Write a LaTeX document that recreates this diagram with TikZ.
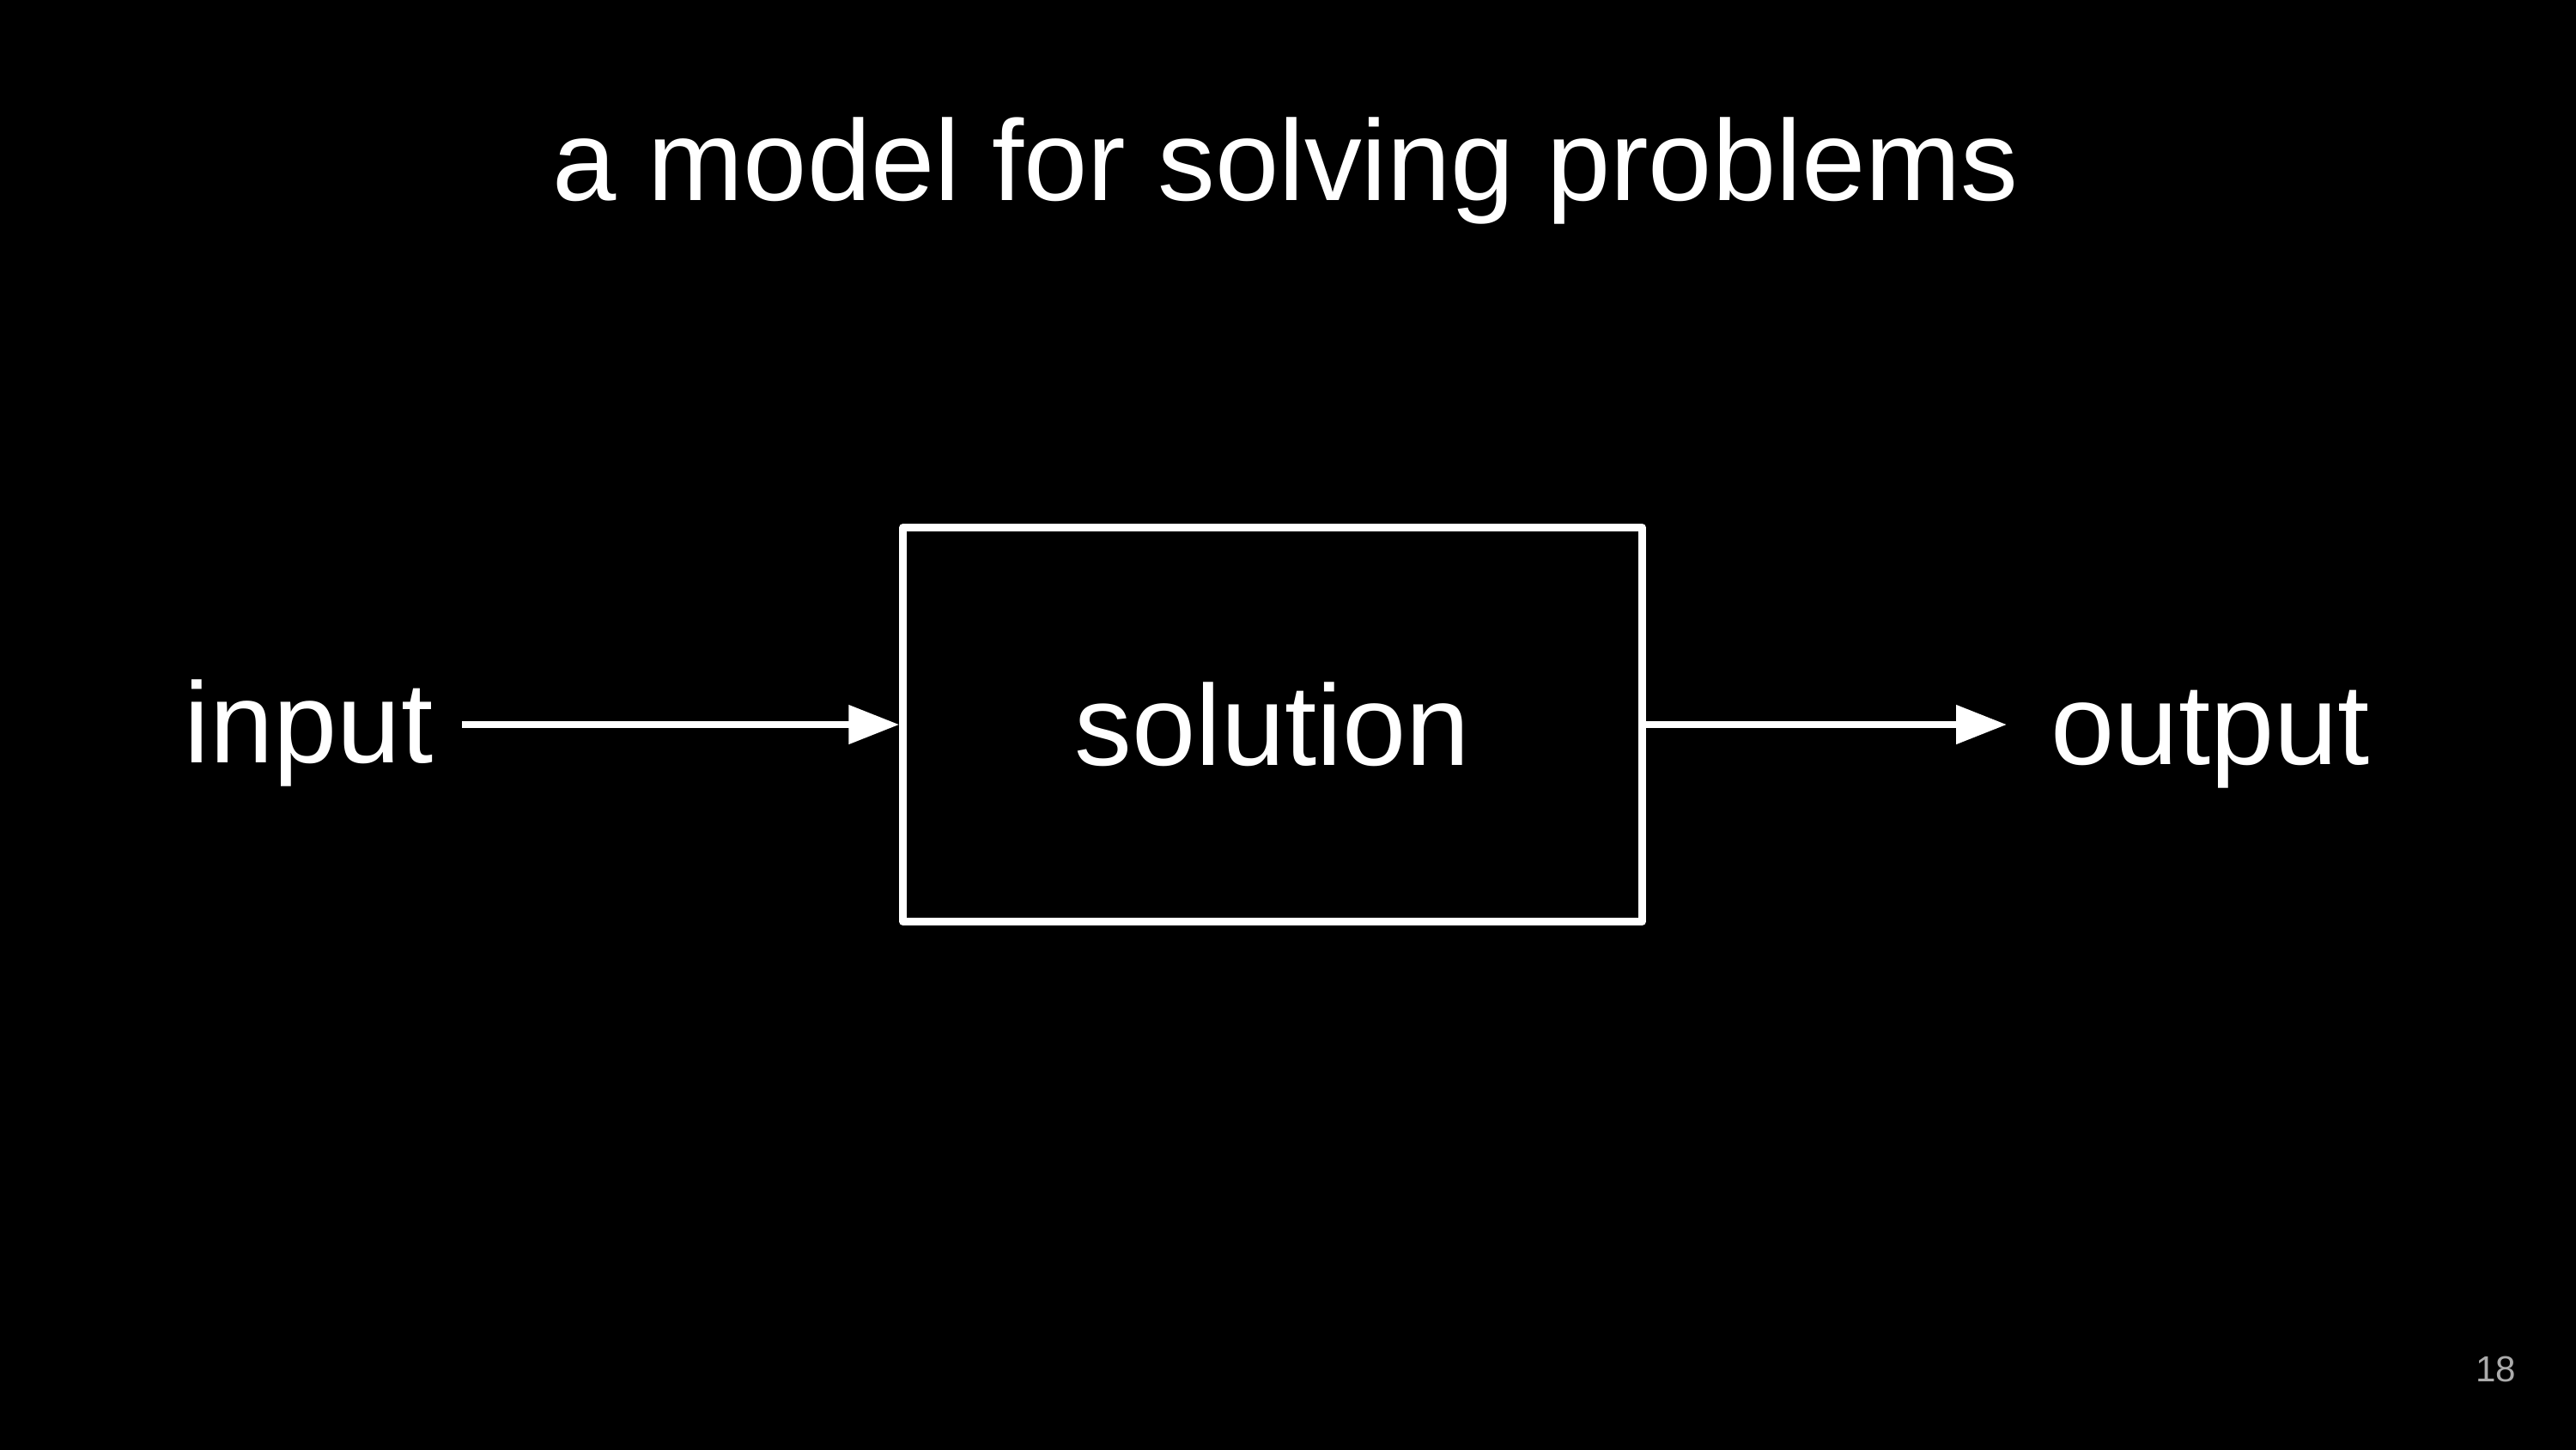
\documentclass[tikz,border=0pt]{standalone}
\usepackage{fontspec}
\setmainfont{Liberation Sans}
\usepackage{tikz}
\usetikzlibrary{arrows.meta}
\tikzset{lbl/.style = {text = white, inner sep = 0, font = \fontsize{38}{44}\selectfont}}
\tikzset{box/.style = {draw = white, line width = 0.09cm, line join = round, text = white,
                       minimum width = 8.605cm, minimum height = 4.59cm,
                       font = \fontsize{38}{44}\selectfont}}
\tikzset{arr/.style = {draw = white, line width = 0.08cm,
                       -{Triangle[length = 0.59cm, width = 0.44cm]}}}
\tikzset{pg/.style = {text = black!33!white, inner sep = 0, font = \fontsize{12}{14}\selectfont}}

\begin{document}
\begin{tikzpicture}
    \useasboundingbox (0, 0) rectangle (30, -16.88);
    \fill [black] (-0.2, 0.2) rectangle (30.2, -17.1);

    \node [lbl, anchor=base] (title) at (14.97, -2.33) {a model for solving problems};

    \node [box] (sol) at (14.82, -8.44) {solution};
    \node [lbl, anchor=base east] (input) at (5.05, -8.88) {input};
    \node [lbl, anchor=base west] (output) at (23.88, -8.90) {output};

    \draw [arr, shorten <=0.33cm] (input.east |- sol.west) -- (sol.west);
    \draw [arr, shorten >=0.51cm] (sol.east) -- (output.west |- sol.east);

    \node [pg, anchor=base east] (page) at (29.31, -16.09) {18};
  \end{tikzpicture}
\end{document}
